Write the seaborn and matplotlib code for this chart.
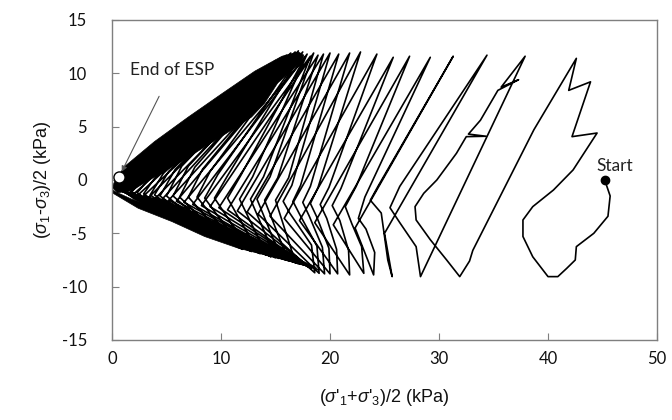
import numpy as np
import pandas as pd
import matplotlib
matplotlib.use("Agg")
import matplotlib.pyplot as plt
import seaborn as sns

# ---------------- data (p' , q) in kPa ----------------
# first loop: start -> first extension peak -> first compression peak
loop1_p = [45.2, 45.7, 45.5, 44.2, 42.6, 42.5, 41.7, 40.9, 40.0, 38.6, 37.7, 37.7, 38.6, 40.5, 42.3, 44.5, 42.2, 43.9, 41.9, 42.6]
loop1_q = [0.0, -1.5, -3.4, -5.0, -6.25, -7.5, -8.3, -9.06, -9.06, -7.2, -5.3, -3.75, -2.5, -0.94, 0.94, 4.4, 4.06, 9.2, 8.4, 11.4]
# second loop
loop2_p = [38.7, 33.1, 32.8, 31.9, 30.7, 29.2, 27.9, 27.8, 28.6, 29.8, 31.6, 32.5, 34.3, 32.7, 33.8, 35.4, 37.3, 35.7, 37.9]
loop2_q = [4.7, -6.6, -7.6, -9.06, -7.5, -5.6, -3.75, -2.5, -1.25, 0.0, 2.5, 4.06, 4.1, 4.3, 5.6, 8.4, 9.4, 8.7, 11.6]

# middle cycles: unloading turn U, bottom B, lower legs L1/L2, knee K, upper leg M, top T
mid_U_p = [33.0, 25.0, 22.3, 20.3, 18.6, 17.2, 15.8, 14.5, 13.4, 12.4]
mid_U_q = [-5.0, -5.0, -4.5, -4.2, -4.0, -3.8, -3.6, -3.4, -3.2, -3.0]
mid_B_p = [28.3, 25.7, 24.0, 23.1, 21.8, 20.7, 20.0, 19.5, 19.0, 18.6]
mid_B_q = [-9.06, -9.06, -8.9, -8.75, -8.9, -8.8, -8.8, -8.8, -8.75, -8.7]
mid_L1_p = [27.9, 25.3, 24.1, 22.9, 21.7, 20.6, 19.9, 19.3, 18.8, 18.3]
mid_L1_q = [-6.25, -7.5, -6.8, -6.25, -6.6, -6.5, -6.4, -6.3, -6.2, -6.1]
mid_L2_p = [26.4, 24.7, 23.3, 22.0, 20.9, 19.7, 18.8, 18.1, 17.2, 16.3]
mid_L2_q = [-4.0, -3.1, -4.6, -4.1, -3.8, -3.6, -3.5, -3.4, -3.2, -3.1]
mid_K_p = [25.5, 23.7, 22.6, 21.4, 20.2, 19.1, 18.2, 17.5, 16.6, 15.7]
mid_K_q = [-2.6, -1.9, -3.6, -2.5, -2.4, -2.3, -2.2, -2.1, -2.0, -2.0]
mid_M_p = [26.4, 24.4, 23.2, 22.4, 21.0, 19.9, 18.9, 18.2, 17.3, 16.5]
mid_M_q = [-0.6, -0.6, -1.6, -0.6, -0.8, -0.7, -0.7, -0.6, -0.5, -0.5]
mid_T_p = [34.4, 31.3, 29.2, 27.3, 25.8, 24.3, 22.8, 21.8, 20.8, 20.0]
mid_T_q = [11.7, 11.6, 11.5, 11.6, 11.5, 11.8, 12.0, 11.9, 11.8, 11.9]

# late cycles (liquefaction)
late_U_p = [11.5, 10.6, 9.8, 9.0, 8.2, 7.4, 6.6, 5.9, 5.2, 4.6, 4.0, 3.4, 2.9, 2.4, 2.0, 1.6, 1.2, 0.9, 0.6, 0.4, 0.2]
late_U_q = [-2.9, -2.8, -2.6, -2.5, -2.4, -2.3, -2.1, -2.0, -1.9, -1.8, -1.7, -1.6, -1.5, -1.4, -1.3, -1.2, -1.1, -1.0, -0.9, -0.8, -0.7]
late_B_p = [18.3, 18.1, 17.9, 17.7, 17.5, 17.3, 17.1, 16.9, 16.7, 16.5, 16.3, 16.1, 15.9, 15.6, 15.3, 15.0, 14.6, 14.2, 13.6, 12.8, 12.0]
late_B_q = [-8.3, -8.2, -8.1, -8.0, -7.95, -7.9, -7.85, -7.8, -7.7, -7.65, -7.6, -7.55, -7.5, -7.4, -7.35, -7.3, -7.2, -7.05, -6.9, -6.7, -6.5]
late_L_p = [16.6, 15.8, 15.1, 14.5, 13.6, 12.6, 11.5, 10.6, 9.9, 9.1, 8.3, 7.7, 7.0, 6.3, 5.8, 5.3, 4.6, 3.9, 3.3, 2.6, 2.0]
late_L_q = [-7.0, -6.6, -6.3, -6.1, -5.8, -5.3, -4.9, -4.6, -4.3, -4.0, -3.7, -3.4, -3.2, -2.9, -2.8, -2.7, -2.5, -2.3, -2.1, -1.9, -1.75]
late_K_p = [15.0, 14.0, 13.3, 12.7, 11.7, 10.6, 9.4, 8.5, 7.8, 7.0, 6.2, 5.6, 5.0, 4.4, 3.9, 3.5, 2.9, 2.3, 1.8, 1.3, 0.9]
late_K_q = [-1.9, -1.9, -1.8, -1.8, -1.8, -1.7, -1.7, -1.7, -1.6, -1.6, -1.6, -1.5, -1.5, -1.5, -1.4, -1.4, -1.3, -1.2, -1.1, -1.0, -0.9]
late_M_p = [16.2, 15.2, 14.5, 13.9, 12.9, 11.8, 10.6, 9.7, 9.0, 8.3, 7.6, 7.0, 6.4, 5.8, 5.2, 4.7, 4.0, 3.3, 2.7, 2.1, 1.6]
late_M_q = [0.2, 0.2, 0.3, 0.3, 0.3, 0.4, 0.4, 0.5, 0.8, 1.0, 1.2, 1.3, 1.3, 1.0, 0.8, 0.6, 0.3, 0.0, -0.2, -0.4, -0.5]
late_T_p = [19.4, 18.9, 18.5, 18.2, 17.9, 17.7, 17.5, 17.3, 17.1, 17.0, 16.8, 16.6, 16.4, 16.2, 16.0, 15.7, 15.4, 15.0, 14.5, 13.8, 13.0]
late_T_q = [11.8, 11.7, 11.9, 11.6, 11.8, 11.5, 12.0, 11.7, 12.1, 11.8, 12.0, 11.7, 11.9, 11.6, 11.7, 11.5, 11.4, 11.2, 10.9, 10.4, 9.8]

# end of effective stress path and start point
end_p, end_q = 0.64, 0.31
start_p, start_q = 45.2, 0.0

# dense (saturated black) regions of the path
upper_band_p = [0.0, 0.3, 1.2, 3.9, 7.0, 10.1, 13.1, 15.6, 17.1, 17.6, 17.4, 16.2, 15.2, 14.0, 12.8, 11.0, 8.5, 6.1, 3.9, 1.8, 0.5]
upper_band_q = [-0.7, 0.0, 1.3, 3.6, 5.9, 8.1, 10.2, 11.6, 12.0, 11.7, 11.1, 10.0, 9.1, 7.2, 5.9, 4.7, 3.1, 1.56, 0.3, -1.0, -1.2]
lower_band_p = [0.0, 0.1, 2.4, 5.5, 8.5, 11.6, 14.7, 17.7, 19.0, 18.6, 16.8, 13.7, 10.6, 7.6, 4.6, 1.8, 0.3]
lower_band_q = [-0.9, -1.25, -2.65, -3.9, -5.3, -6.4, -7.2, -8.0, -8.5, -8.1, -7.3, -6.2, -5.0, -3.8, -2.7, -1.8, -1.1]

xticks = [0, 10, 20, 30, 40, 50]
yticks = [-15, -10, -5, 0, 5, 10, 15]

# ---------------- assemble the path in loading order ----------------
path_p = list(loop1_p) + list(loop2_p)
path_q = list(loop1_q) + list(loop2_q)
for i in range(len(mid_B_p)):
    if i > 0:
        path_p.append(mid_U_p[i]); path_q.append(mid_U_q[i])
    path_p += [mid_B_p[i], mid_L1_p[i], mid_L2_p[i], mid_K_p[i], mid_M_p[i], mid_T_p[i]]
    path_q += [mid_B_q[i], mid_L1_q[i], mid_L2_q[i], mid_K_q[i], mid_M_q[i], mid_T_q[i]]
for i in range(len(late_B_p)):
    path_p += [late_U_p[i], late_B_p[i], late_L_p[i], late_K_p[i], late_M_p[i], late_T_p[i]]
    path_q += [late_U_q[i], late_B_q[i], late_L_q[i], late_K_q[i], late_M_q[i], late_T_q[i]]
path_p.append(end_p)
path_q.append(end_q)
df = pd.DataFrame({"p": path_p, "q": path_q})

# ---------------- styling ----------------
sns.set_theme(style="white")
plt.rcParams["font.family"] = ["Lato", "DejaVu Sans"]
plt.rcParams["mathtext.fontset"] = "custom"
plt.rcParams["mathtext.rm"] = "Liberation Sans"
plt.rcParams["mathtext.it"] = "Liberation Sans:italic"

fig = plt.figure(figsize=(6.72, 4.2), dpi=100)
ax = fig.add_axes([0.1667, 0.1905, 0.811, 0.762])

ax.fill(upper_band_p, upper_band_q, color="black", lw=0.5, zorder=2)
ax.fill(lower_band_p, lower_band_q, color="black", lw=0.5, zorder=2)
sns.lineplot(data=df, x="p", y="q", sort=False, estimator=None, color="black",
             lw=1.2, ax=ax, zorder=3)
for line in ax.lines:
    line.set_solid_joinstyle("round")

ax.plot([start_p], [start_q], "o", color="black", ms=6, zorder=5)
ax.plot([end_p], [end_q], "o", mfc="white", mec="black", mew=1.0, ms=8, zorder=6)

ax.annotate("End of ESP", xy=(0.89, 0.78), xytext=(1.65, 10.3),
            fontsize=12.5, color="#222222", va="center", ha="left",
            arrowprops=dict(arrowstyle="-|>", color="#555555", lw=0.8,
                            shrinkA=12, shrinkB=0, mutation_scale=8),
            zorder=7)
ax.text(44.4, 1.27, "Start", fontsize=12.5, color="#222222", va="center", ha="left", zorder=7)

ax.set_xlim(0, 50)
ax.set_ylim(-15, 15)
ax.set_xticks(xticks)
ax.set_yticks(yticks)
ax.set_xticklabels([str(t) for t in xticks])
ax.set_yticklabels([str(t) for t in yticks])
ax.tick_params(axis="both", direction="in", length=5, width=0.8, color="#7f7f7f",
               labelsize=12, labelcolor="#111111")
ax.tick_params(axis="y", pad=18, left=True)
ax.tick_params(axis="x", pad=8, bottom=True)
for s in ax.spines.values():
    s.set_color("#7f7f7f")
    s.set_linewidth(1.0)
    s.set_visible(True)

ax.set_xlabel(r"($\sigma$'$_1$+$\sigma$'$_3$)/2 (kPa)", fontsize=13,
              family="Liberation Sans", labelpad=14, color="#111111")
ax.set_ylabel(r"($\sigma_1$-$\sigma_3$)/2 (kPa)", fontsize=13,
              family="Liberation Sans", labelpad=6, color="#111111")

fig.savefig("out.png", dpi=100)
